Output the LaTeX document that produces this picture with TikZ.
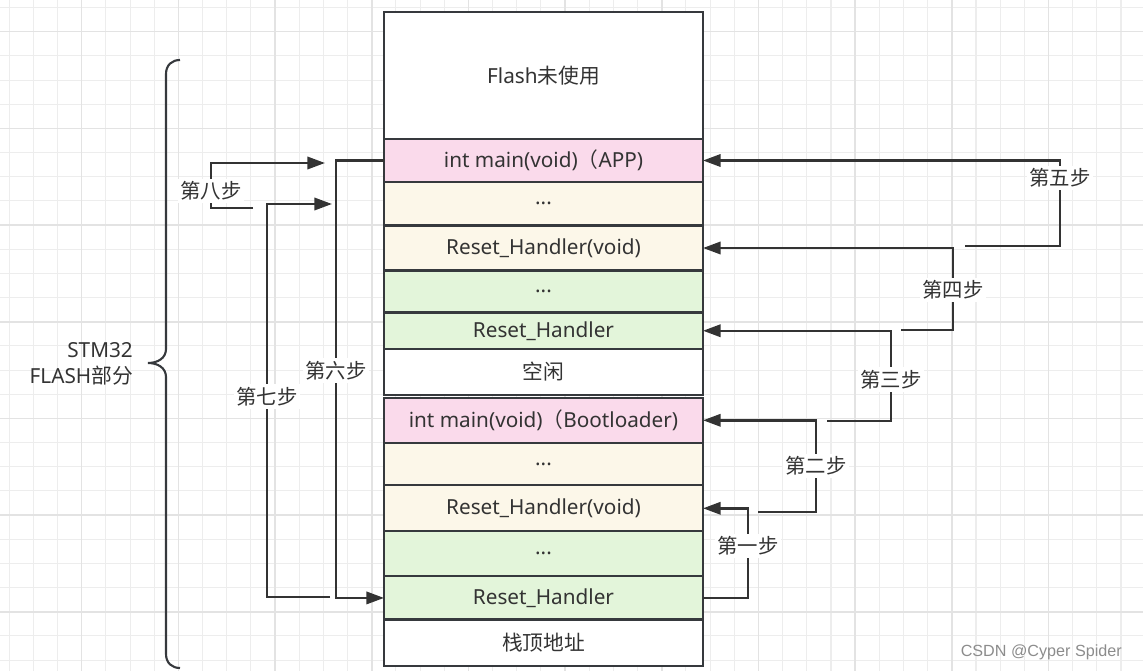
\documentclass[tikz,border=0pt]{standalone}
\usepackage{fontspec}
\setmainfont{Noto Sans}
\newfontfamily\cjk{Noto Sans CJK SC}
\newfontfamily\markfont{Liberation Sans}
\usetikzlibrary{positioning,arrows.meta}
\newlength\pxl
\setlength\pxl{0.02cm}
\definecolor{appink}{RGB}{250,218,235}
\definecolor{cream}{RGB}{252,247,233}
\definecolor{mint}{RGB}{227,245,218}
\definecolor{rowline}{RGB}{54,57,61}
\definecolor{ink}{RGB}{51,51,51}
\tikzset{
  memrow/.style = {draw=rowline, line width=1.3pt, minimum width=319\pxl,
    inner sep=0pt, outer sep=0pt, text=ink,
    font=\fontsize{11.8}{13}\selectfont},
  steplbl/.style = {fill=white, inner sep=1.5pt, text=ink,
    font=\cjk\fontsize{11.6}{13}\selectfont},
  flow/.style = {draw=ink, line width=1.4pt, ->},
  gridfine/.style = {draw=black!7, line width=0.6pt},
  gridbold/.style = {draw=black!11, line width=0.9pt}}

\begin{document}
\begin{tikzpicture}[x=0.02cm, y=-0.02cm, >={Triangle[length=10pt,width=7pt]}]
\useasboundingbox (0,0) rectangle (1143,671);
% background grid
\foreach \k in {-4,...,44}
  \draw[gridfine] ({81.7+24.17*\k},0) -- ({81.7+24.17*\k},671);
\foreach \k in {-1,...,27}
  \draw[gridfine] (0,{31.7+24.17*\k}) -- (1143,{31.7+24.17*\k});
\foreach \k in {-1,...,11}
  \draw[gridbold] ({81.7+96.68*\k},0) -- ({81.7+96.68*\k},671);
\foreach \k in {0,...,7}
  \draw[gridbold] (0,{31.7+96.68*\k}) -- (1143,{31.7+96.68*\k});

% flash map
\node [memrow, fill=white, minimum height=127\pxl, anchor=north] (flash) at (543.5,12) {Flash{\cjk 未使用}};
\node [memrow, fill=appink, minimum height=43\pxl, below=0pt of flash] (appmain) {int main(void){\cjk （}APP)};
\node [memrow, fill=cream, minimum height=43.5\pxl, below=0pt of appmain] (appdots) {...};
\node [memrow, fill=cream, minimum height=45\pxl, below=0pt of appdots] (appreset) {Reset\_Handler(void)};
\node [memrow, fill=mint, minimum height=42\pxl, below=0pt of appreset] (appvdots) {...};
\node [memrow, fill=mint, minimum height=36.5\pxl, below=0pt of appvdots] (appvector) {Reset\_Handler};
\node [memrow, fill=white, minimum height=46\pxl, below=0pt of appvector] (idle) {{\cjk 空闲}};
\node [memrow, fill=appink, minimum height=45\pxl, below=2.8\pxl of idle] (bootmain) {int main(void){\cjk （}Bootloader)};
\node [memrow, fill=cream, minimum height=42.5\pxl, below=0pt of bootmain] (bootdots) {...};
\node [memrow, fill=cream, minimum height=46\pxl, below=0pt of bootdots] (bootreset) {Reset\_Handler(void)};
\node [memrow, fill=mint, minimum height=45\pxl, below=0pt of bootreset] (bootvdots) {...};
\node [memrow, fill=mint, minimum height=43.3\pxl, below=0pt of bootvdots] (bootvector) {Reset\_Handler};
\node [memrow, fill=white, minimum height=46.7\pxl, below=0pt of bootvector] (stacktop) {{\cjk 栈顶地址}};

% brace and its label
\draw[rowline, line width=1.2pt] (180,60) .. controls (172,60) and (166,65) .. (166,74)
  -- (166,349) .. controls (166,358) and (158,363) .. (148,363)
  .. controls (158,363) and (166,368) .. (166,377)
  -- (166,654) .. controls (166,663) and (172,668) .. (180,668);
\node [anchor=east, align=right, text=ink, font=\fontsize{11.8}{14.7}\selectfont] (flashlbl) at (139,364) {STM32\\FLASH{\cjk 部分}};

% free ends
\coordinate (s2start) at (758,512);
\coordinate (s3start) at (827,421);
\coordinate (s4start) at (901,330);
\coordinate (s5start) at (965,246);
\coordinate (s7start) at (330,597);
\coordinate (s7end) at (332,204);
\coordinate (s8start) at (253,208);
\coordinate (s8end) at (325,163);

% steps
\draw[flow] (bootvector.east) -- ++(45,0) |- node[steplbl, pos=.29] {第一步} (bootreset.east);
\draw[flow] (s2start) -- ++(58,0) |- node[steplbl, pos=.25] {第二步} (bootmain.east);
\draw[flow] (s3start) -- ++(64,0) |- node[steplbl, pos=.23] {第三步} (appvector.east);
\draw[flow] (s4start) -- ++(52,0) |- node[steplbl, pos=.245] {第四步} (appreset.east);
\draw[flow] (s5start) -- ++(95,0) |- node[steplbl, pos=.4] {第五步} (appmain.east);
\draw[flow] (appmain.west) -- ++(-48,0) |- node[steplbl, pos=.24] {第六步} (bootvector.west);
\draw[flow] (s7start) -- ++(-63,0) |- node[steplbl, pos=.255] {第七步} (s7end);
\draw[flow] (s8start) -- ++(-42,0) |- node[steplbl, pos=.19] {第八步} (s8end);

\node [anchor=east, text=black!45, font=\markfont\fontsize{9.2}{10}\selectfont] (mark) at (1128,652) {CSDN @Cyper Spider};
\end{tikzpicture}
\end{document}
